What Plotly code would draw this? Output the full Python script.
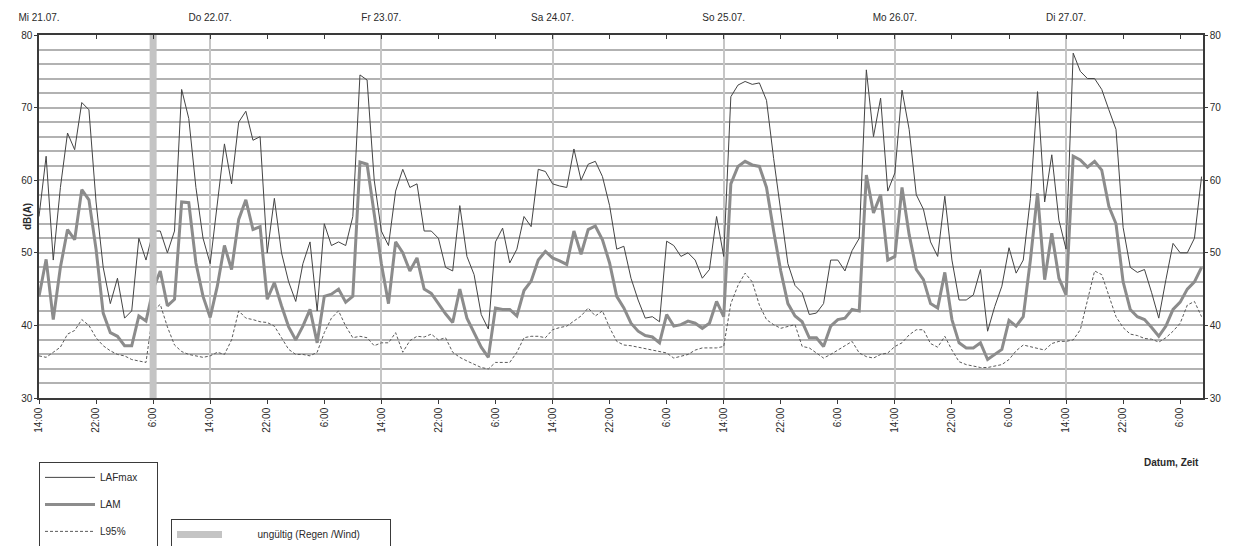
import pandas as pd
import plotly.graph_objects as go

# ---------------- data (hourly values, start Mi 21.07. 14:00) ----------------
lafmax = [55, 63.3, 49, 59, 66.5, 64.2, 70.7, 69.7, 57, 48,
          43, 46.5, 41, 42, 52, 49, 53, 53, 50, 53,
          72.5, 68.5, 59, 52, 48.5, 57, 65, 59.5, 68, 69.5,
          65.5, 66, 50, 57.5, 50, 46, 43.3, 48.5, 51.5, 42,
          54, 51, 51.5, 51, 55, 74.5, 73.8, 60, 53, 51,
          58.5, 61.5, 59, 59.5, 53, 53, 52, 48, 47.5, 56.5,
          49.5, 47, 41.5, 39.5, 51.5, 53.4, 48.6, 50.5, 55, 53.6,
          61.5, 61.2, 59.5, 59.2, 59, 64.3, 60, 62.2, 62.6, 60.5,
          56.5, 50.5, 50.9, 46.5, 43.5, 41, 41.2, 40.5, 51.6, 51,
          49.5, 50, 49, 46.5, 47.7, 55, 49.5, 71.5, 73.1, 73.6,
          73.2, 73.4, 71, 63, 56, 48.5, 45.5, 44.5, 41.5, 41.7,
          43, 49, 49, 47.5, 50.3, 52, 75.2, 66, 71.3, 58.5,
          61, 72.4, 67, 58, 56, 51.5, 49.5, 57.8, 49, 43.5,
          43.5, 44.2, 47.7, 39.2, 42.6, 45.4, 50.7, 47.2, 49, 57.5,
          72.2, 57, 63.5, 54.5, 50.5, 77.5, 75, 74, 74, 72.5,
          69.7, 67, 53.5, 48, 47.3, 47.7, 44.5, 41, 46.3, 51.3,
          50, 50, 52, 60.5]

lam = [44, 49.1, 40.8, 48, 53.2, 51.8, 58.7, 57.3, 50.5, 41.7,
       39, 38.5, 37.2, 37.2, 41.3, 40.6, 45, 47.5, 42.7, 43.6,
       57, 56.9, 48.6, 44, 41.1, 45.4, 51, 47.7, 54.6, 57.3,
       53.2, 53.6, 43.6, 45.9, 42.7, 39.8, 38, 39.9, 42.2, 37.6,
       44, 44.3, 45, 43.2, 44, 62.5, 62.2, 55.5, 48.5, 43,
       51.5, 50, 47.5, 49.3, 45, 44.4, 43, 41.6, 40.4, 45,
       41, 39, 37, 35.6, 42.4, 42.2, 42.2, 41.3, 44.8, 46.1,
       49, 50.2, 49.3, 48.9, 48.4, 53, 49.8, 53.2, 53.7, 51.8,
       48.6, 44, 42.4, 40.3, 39.2, 38.6, 38.4, 37.6, 41.5, 39.9,
       40.1, 40.6, 40.3, 39.6, 40.3, 43.3, 41.2, 59.5, 61.9, 62.6,
       62.1, 61.9, 59, 53, 47.5, 43, 41.3, 40.5, 38.3, 38.3,
       37.1, 39.9, 40.8, 41, 42.2, 42, 60.7, 55.5, 58, 49,
       49.5, 59, 52.5, 47.7, 46.3, 43, 42.4, 47.3, 40.8, 37.6,
       36.9, 36.9, 37.6, 35.3, 36, 36.7, 40.7, 39.9, 41.2, 49,
       58.2, 46.3, 52.7, 46.5, 44.2, 63.3, 62.8, 61.8, 62.6, 61.4,
       56.4, 54, 46, 42.2, 41.2, 40.8, 39.7, 38.5, 39.9, 42.2,
       43.2, 45, 46, 48]

l95 = [35.8, 35.6, 36.3, 37, 38.8, 39.3, 40.8, 40, 38.3, 37.2,
       36.5, 36, 35.8, 35.3, 35.1, 34.9, 42, 42.9, 39.8, 37.3,
       36.4, 36, 35.8, 35.6, 35.8, 36.3, 36, 38, 42, 41,
       40.8, 40.5, 40.4, 39.9, 38.3, 36.7, 36, 36, 35.8, 36.3,
       39, 41, 42, 39.9, 38.3, 38.5, 38.3, 37.2, 37.6, 37.6,
       39, 36.3, 37.9, 38.5, 38.4, 38.8, 38, 38.3, 36.3, 35.6,
       35.1, 34.6, 34.2, 34, 34.9, 34.9, 34.9, 36.3, 38.3, 38.5,
       38.5, 38.3, 39.4, 39.7, 39.9, 40.6, 41.3, 42.4, 41.3, 42,
       39.7, 37.8, 37.3, 37.2, 37, 36.9, 36.7, 36.5, 36.2, 35.5,
       35.7, 36, 36.6, 36.9, 36.9, 36.9, 37.1, 43, 45.5, 47.2,
       46, 42.8, 40.8, 40.1, 39.6, 39.9, 40.1, 37.1, 36.9, 36.2,
       35.5, 36, 36.6, 37.3, 37.8, 36.2, 35.7, 35.5, 36, 36.2,
       37.1, 37.6, 38.7, 39.4, 39.4, 37.5, 37, 38.5, 36.6, 35,
       34.6, 34.4, 34.2, 34.2, 34.4, 34.6, 35.3, 36.5, 37.3, 37.1,
       36.9, 36.6, 37.5, 37.8, 37.8, 38, 39.4, 43.5, 47.5, 47,
       44, 41.2, 39.7, 38.8, 38.6, 38.2, 38.1, 37.7, 38.3, 39.2,
       40.3, 42.8, 43.3, 41.2]

start = pd.Timestamp("2010-07-21 14:00")
times = pd.date_range(start, periods=len(lafmax), freq="h")

day_labels = ["Mi 21.07.", "Do 22.07.", "Fr 23.07.", "Sa 24.07.",
              "So 25.07.", "Mo 26.07.", "Di 27.07."]
day_times = pd.date_range(start, periods=len(day_labels), freq="D")

tick_times = pd.date_range(start, periods=21, freq="8h")
tick_text = [f"{t.hour}:00" for t in tick_times]

invalid_time = [pd.Timestamp("2010-07-22 06:00")] * 2
invalid_y = [30, 80]

NB = "\u00a0"
name_lafmax = "LAFmax" + NB * 5
name_lam = "LAM"
name_l95 = "L95%"
invalid_name = NB * 11 + "ungültig (Regen /Wind)" + NB * 9

x_end = start + pd.Timedelta(hours=163.2)
x_range = [start, x_end]

FONT = "Liberation Sans, Arial, sans-serif"
TXT = "#2a2a2a"
AX = "#3a3a3a"
GRID = "#b2b2b2"

fig = go.Figure()

fig.add_trace(go.Scatter(
    x=invalid_time, y=invalid_y, mode="lines", xaxis="x2", yaxis="y2",
    line=dict(color="#c4c4c4", width=7), name=invalid_name,
    legend="legend2", hoverinfo="skip"))

fig.add_trace(go.Scatter(
    x=times, y=lafmax, mode="lines", name=name_lafmax, legendgroup="a",
    line=dict(color="#444444", width=1)))
fig.add_trace(go.Scatter(
    x=times, y=lam, mode="lines", name=name_lam, legendgroup="b",
    line=dict(color="#8c8c8c", width=3)))
fig.add_trace(go.Scatter(
    x=times, y=l95, mode="lines", name=name_l95, legendgroup="c",
    line=dict(color="#5a5a5a", width=1, dash="3px,2px")))

fig.update_layout(
    width=1233, height=546,
    margin=dict(l=39, r=30, t=35, b=148, autoexpand=False),
    paper_bgcolor="white", plot_bgcolor="white",
    font=dict(family=FONT, size=10, color=TXT),
    xaxis=dict(
        type="date", range=x_range, tickmode="array",
        tickvals=tick_times, ticktext=tick_text, tickangle=-90,
        ticks="outside", ticklen=4, tickcolor=AX,
        showgrid=False, zeroline=False,
        showline=True, linecolor=AX, linewidth=1.5,
        tickfont=dict(size=10, color=TXT)),
    xaxis2=dict(
        type="date", range=x_range, overlaying="x", side="top",
        tickmode="array", tickvals=day_times, ticktext=day_labels,
        ticks="inside", ticklen=4, tickcolor=AX,
        minor=dict(ticks="inside", ticklen=4, tickcolor=AX,
                   dtick=8 * 3600 * 1000, tick0=start, showgrid=False),
        showgrid=True, gridcolor="#c6c6c6", gridwidth=2,
        zeroline=False, showline=True, linecolor=AX, linewidth=1.5,
        ticklabelstandoff=8,
        tickfont=dict(size=10, color=TXT)),
    yaxis=dict(
        range=[30, 80], tick0=30, dtick=10,
        ticks="outside", ticklen=3, tickcolor=AX,
        showgrid=True, gridcolor=GRID, gridwidth=2,
        minor=dict(dtick=2, showgrid=True, gridcolor=GRID, gridwidth=2),
        zeroline=False, showline=True, linecolor=AX, linewidth=1.5,
        tickfont=dict(size=10, color=TXT)),
    yaxis2=dict(
        range=[30, 80], tick0=30, dtick=10, overlaying="y", side="right",
        ticks="outside", ticklen=3, tickcolor=AX,
        showgrid=False, zeroline=False, showline=True, linecolor=AX,
        linewidth=1.5, tickfont=dict(size=10, color=TXT)),
    legend=dict(
        x=0, y=-0.176, xanchor="left", yanchor="top",
        bordercolor=AX, borderwidth=1, bgcolor="white",
        font=dict(size=10, color=TXT), itemwidth=50,
        tracegroupgap=8, traceorder="grouped"),
    legend2=dict(
        x=0.1134, y=-0.333, xanchor="left", yanchor="top",
        bordercolor=AX, borderwidth=1, bgcolor="white",
        font=dict(size=10, color=TXT), itemwidth=45),
    annotations=[
        dict(text="<b>dB(A)</b>", xref="paper", yref="paper",
             x=-0.0163, y=0.5, textangle=-90, showarrow=False,
             font=dict(size=10, color=TXT)),
        dict(text="<b>Datum, Zeit</b>", xref="paper", yref="paper",
             x=0.998, y=-0.179, xanchor="right", yanchor="middle",
             showarrow=False, font=dict(size=10, color=TXT)),
    ],
)

fig.write_html("out.html", config={"displayModeBar": False},
               post_script="document.body.style.margin='0px';")
